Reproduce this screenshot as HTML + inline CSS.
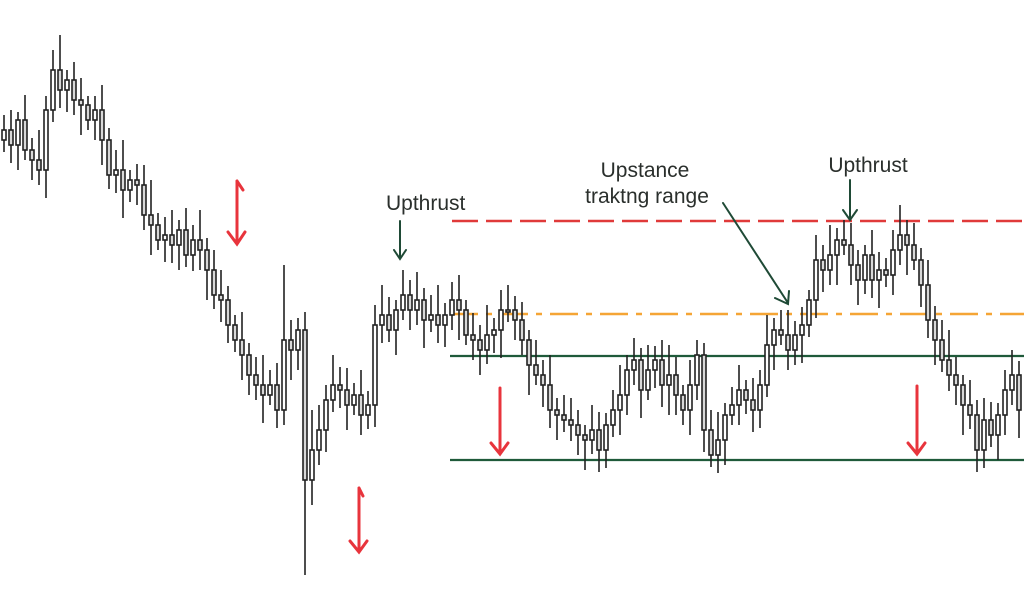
<!DOCTYPE html>
<html><head><meta charset="utf-8"><style>
html,body{margin:0;padding:0;background:#fff;}
svg{display:block;font-family:"Liberation Sans",sans-serif;}
</style></head><body>
<svg id="chart" width="1024" height="615" viewBox="0 0 1024 615">
<g id="levels">
<line x1="452" y1="221" x2="1024" y2="221" stroke="#e03a3a" stroke-width="2.5" stroke-dasharray="26,8"/>
<line x1="450" y1="314" x2="1024" y2="314" stroke="#f5a535" stroke-width="2.5" stroke-dasharray="28,8,6,8"/>
<line x1="450" y1="356" x2="1024" y2="356" stroke="#1f5a3a" stroke-width="2.2"/>
<line x1="450" y1="460" x2="1024" y2="460" stroke="#1f5a3a" stroke-width="2.2"/>
</g>
<g id="candles"></g>
<g stroke-linecap="round" fill="none">
<path d="M237 181 L237 243 M228 232 L237 244 L245 232 M237 181 L243 190" stroke="#e8343c" stroke-width="3"/>
<path d="M359 488 L359 551 M350 541 L359 552 L367 541 M359 488 L363 496" stroke="#e8343c" stroke-width="3"/>
<path d="M500 388 L500 453 M491 443 L500 454 L508 443" stroke="#e8343c" stroke-width="3"/>
<path d="M917 386 L917 453 M908 443 L917 454 L925 443" stroke="#e8343c" stroke-width="3"/>
<path d="M400 221 L400 258 M394 250 L400 259 L406 250" stroke="#1f4a36" stroke-width="2"/>
<path d="M850 180 L850 219 M843 210 L850 220 L857 210" stroke="#1f4a36" stroke-width="2"/>
<path d="M723 203 L788 303 M775 298 L788 304 L789 291" stroke="#1f4a36" stroke-width="2"/>
</g>
<g fill="#2a2f2c" font-size="21">
<text x="386" y="210">Upthrust</text>
<text x="645" y="177" text-anchor="middle">Upstance</text>
<text x="647" y="203" text-anchor="middle">traktng range</text>
<text x="868" y="172" text-anchor="middle">Upthrust</text>
</g>
</svg>
<script>
const closes=[470,455,480,450,440,430,490,530,510,520,500,495,480,490,460,425,430,410,420,415,385,375,360,365,355,370,345,360,350,330,305,300,275,260,245,225,215,205,215,190,260,250,270,120,150,170,200,215,210,195,205,185,195,275,285,270,290,305,290,300,280,285,275,285,300,290,265,260,250,265,270,290,290,280,260,235,225,215,190,185,180,175,165,160,170,150,175,190,205,230,240,210,230,240,215,225,205,190,215,245,170,145,160,185,195,210,200,190,215,255,270,265,250,265,275,300,340,330,345,360,355,335,320,345,320,330,325,350,365,355,340,315,280,260,240,225,215,195,185,150,180,165,185,210,225,190];
const wickUp=[15,20,8,25,12,30,14,20,35,10,18,22,9,14,25,12,20,30,10,16,20,35,12,18,25,10,22,15,30,12,20,25,14,10,28,12,18,30,15,22,75,20,12,18,40,25,15,30,18,22,12,25,14,20,30,18,10,25,15,28,12,20,30,12,18,25,10,22,15,30,12,20,25,14,18,10,25,15,30,12,20,22,15,10,25,18,12,20,30,15,22,12,25,14,20,30,18,10,25,15,12,20,28,12,18,25,10,22,15,30,12,20,25,14,18,10,25,15,30,12,20,22,15,10,25,18,12,20,30,15,22,12,25,14,20,30,18,10,25,15,22,18,12,20,25,14];
const wickDn=[12,18,25,10,20,15,28,12,18,22,15,30,10,20,25,14,18,28,12,20,15,30,10,22,18,25,12,16,20,30,14,22,18,12,25,20,15,28,10,18,15,30,20,95,25,15,22,12,18,25,10,20,14,22,18,12,25,10,20,15,28,12,18,22,15,30,10,20,25,14,18,28,12,20,15,30,10,22,18,25,12,16,20,30,14,22,18,12,25,20,15,28,10,18,22,30,20,15,25,15,22,12,18,25,10,20,14,22,18,12,25,10,20,15,28,12,18,22,15,30,10,20,25,14,18,28,12,20,15,30,10,22,18,25,12,16,20,30,14,22,18,12,25,20,15,28];
const firstOpen=460;
const x0=4, step=7;
function xScale(i){return x0+i*step;}
function yScale(p){return 600-p;}
const g=document.getElementById('candles');
const NS='http://www.w3.org/2000/svg';
for(let i=0;i<closes.length;i++){
  const o=i===0?firstOpen:closes[i-1], c=closes[i];
  const hi=Math.max(o,c)+wickUp[i], lo=Math.min(o,c)-wickDn[i];
  const x=xScale(i);
  const cg=document.createElementNS(NS,'g');
  
  
  const w=document.createElementNS(NS,'line');
  
  
  w.setAttribute('x1',x);w.setAttribute('x2',x);
  w.setAttribute('y1',yScale(hi));w.setAttribute('y2',yScale(lo));
  w.setAttribute('stroke','#222');w.setAttribute('stroke-width','1.6');
  cg.appendChild(w);
  const r=document.createElementNS(NS,'rect');
  
  
  const top=yScale(Math.max(o,c)), bot=yScale(Math.min(o,c));
  r.setAttribute('x',x-2);r.setAttribute('width',4);
  r.setAttribute('y',top);r.setAttribute('height',Math.max(2,bot-top));
  r.setAttribute('fill',c>=o?'#fff':'#d8d8d8');
  r.setAttribute('stroke','#222');r.setAttribute('stroke-width','1.6');
  cg.appendChild(r);
  g.appendChild(cg);
}
</script>
</body></html>
